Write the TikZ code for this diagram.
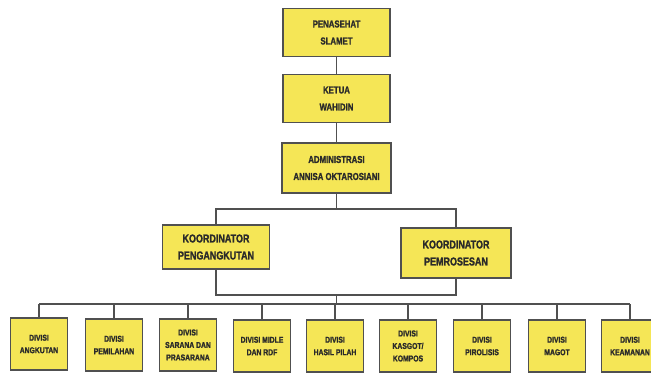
\documentclass[tikz,border=0pt]{standalone}
\usepackage{fontspec}
\setmainfont{Liberation Sans Bold}[FakeStretch=0.78,FakeBold=1.5]
\newfontfamily\divfont{Liberation Sans Bold}[FakeStretch=0.8,FakeBold=1.5]
\definecolor{boxfill}{HTML}{F5E656}
\definecolor{boxline}{HTML}{505050}
\definecolor{txt}{HTML}{2A2A2A}
\begin{document}
\begin{tikzpicture}[x=1pt,y=-1pt,
  orgbox/.style={draw=boxline,line width=1.3pt,fill=boxfill,align=center,text=txt,inner sep=1pt},
  topbox/.style={orgbox,minimum width=107pt,minimum height=48pt,font=\fontsize{10}{17}\selectfont},
  coordbox/.style={orgbox,minimum width=107pt,minimum height=44pt,font=\fontsize{11.5}{17}\selectfont},
  divbox/.style={orgbox,minimum width=57pt,minimum height=52pt,font=\divfont\fontsize{8.5}{12.5}\selectfont},
  link/.style={draw=boxline,line width=1.1pt}]
\useasboundingbox (0,0) rectangle (651,374);
\fill[white] (0,0) rectangle (651,374);
\node[topbox] (pen) at (336.5,32.5) {PENASEHAT\\SLAMET};
\node[topbox] (ket) at (336.5,98.5) {KETUA\\WAHIDIN};
\node[topbox,minimum width=109pt,minimum height=50pt] (adm) at (336.5,168) {ADMINISTRASI\\ANNISA OKTAROSIANI};
\node[coordbox] (kp) at (216,247) {KOORDINATOR\\PENGANGKUTAN};
\node[coordbox,minimum width=110pt,minimum height=50pt] (kr) at (456,253) {KOORDINATOR\\PEMROSESAN};
\node[divbox] (d1) at (39,344) {DIVISI\\ANGKUTAN};
\node[divbox] (d2) at (114,345) {DIVISI\\PEMILAHAN};
\node[divbox] (d3) at (188,345) {DIVISI\\SARANA DAN\\PRASARANA};
\node[divbox] (d4) at (262,346) {DIVISI MIDLE\\DAN RDF};
\node[divbox] (d5) at (335,346) {DIVISI\\HASIL PILAH};
\node[divbox] (d6) at (408,346) {DIVISI\\KASGOT/\\KOMPOS};
\node[divbox] (d7) at (482,346) {DIVISI\\PIROLISIS};
\node[divbox] (d8) at (557,346) {DIVISI\\MAGOT};
\node[divbox] (d9) at (630,346) {DIVISI\\KEAMANAN};
\coordinate (b1) at (336.5,209);
\coordinate (b2) at (336.5,295);
\coordinate (b3) at (336.5,304);
\draw[link] (pen.south) -- (ket.north);
\draw[link] (ket.south) -- (adm.north);
\draw[link] (adm.south) -- (b1);
\draw[link] (kp.north) |- (b1) -| (kr.north);
\draw[link] (kp.south) |- (b2) -| (kr.south);
\draw[link] (b2) -- (b3);
\draw[link] (b3 -| d1.north) -- (b3 -| d9.north);
\foreach \i in {1,...,9}{\draw[link] (d\i.north) -- (d\i.north |- b3);}
\end{tikzpicture}
\end{document}
